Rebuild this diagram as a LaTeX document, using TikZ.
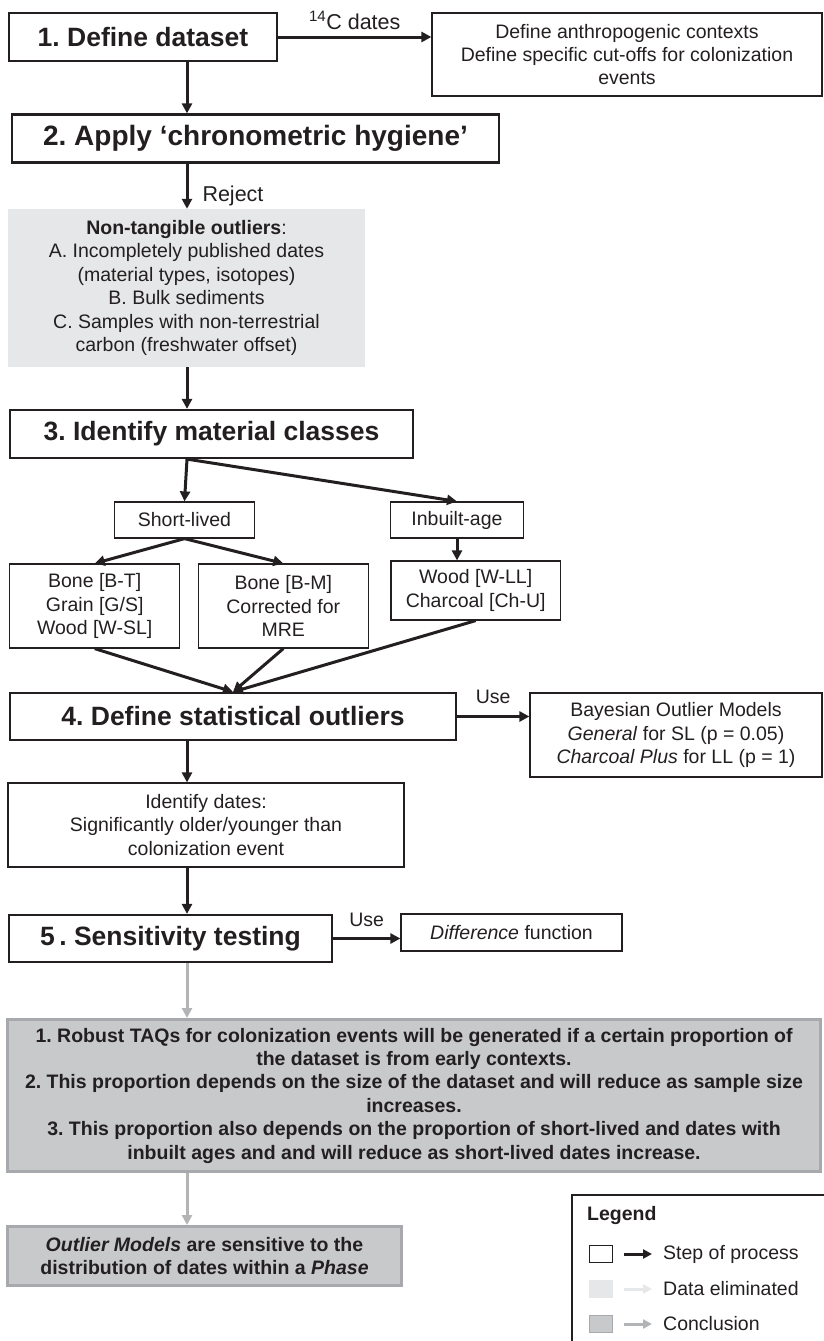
\documentclass[tikz,border=0pt]{standalone}
\usepackage{fontspec}
\setmainfont{Liberation Sans}
\usetikzlibrary{arrows.meta}
\definecolor{ink}{HTML}{231F20}
\definecolor{elim}{HTML}{E6E7E8}
\definecolor{concl}{HTML}{C8C9CB}
\definecolor{conclrule}{HTML}{A7A9AC}
\definecolor{greyarrow}{HTML}{B3B4B6}
\frenchspacing

\begin{document}
\begin{tikzpicture}[x=1pt,y=-1pt,
  every node/.style={font=\fontsize{19.5}{23.4}\selectfont, text=ink, align=center, inner sep=0pt},
  stepbox/.style={draw=ink, line width=2.2pt, font=\fontsize{26.5}{30}\selectfont\bfseries},
  plainbox/.style={draw=ink, line width=1.2pt},
  elimbox/.style={fill=elim},
  conclbox/.style={fill=concl, draw=conclrule, line width=3pt, font=\fontsize{19.5}{23.4}\selectfont\bfseries},
  flowlabel/.style={font=\fontsize{21.5}{24}\selectfont},
  flow/.style={draw=ink, line width=3pt, -{Triangle[length=10pt,width=10pt]}},
  greyflow/.style={draw=greyarrow, line width=3pt, -{Triangle[length=10pt,width=10pt]}}]
  \useasboundingbox (0,0) rectangle (824,1341);
  \coordinate (spine) at (187,0);
  % steps of the process
  \node[stepbox, minimum width=268, minimum height=48] (def) at (143,37) {1. Define dataset};
  \node[plainbox, minimum width=390, minimum height=83] (ctx) at (627,54.5) {Define anthropogenic contexts\\Define specific cut-offs for colonization\\events};
  \node[stepbox, minimum width=487, minimum height=48, font=\fontsize{28}{30}\selectfont\bfseries] (hyg) at (255.5,138.5) {2. Apply `chronometric hygiene'};
  \node[elimbox, minimum width=357, minimum height=158] (rej) at (186.5,288) {\textbf{Non-tangible outliers}:\\A. Incompletely published dates\\(material types, isotopes)\\B. Bulk sediments\\C. Samples with non-terrestrial\\carbon (freshwater offset)};
  \node[stepbox, minimum width=403, minimum height=48] (cls) at (211.5,434) {3. Identify material classes};
  \node[plainbox, minimum width=140, minimum height=36] (sl) at (184.5,520) {Short-lived};
  \node[plainbox, minimum width=133, minimum height=36] (ib) at (457,520) {Inbuilt-age};
  \node[plainbox, minimum width=170, minimum height=84] (bt) at (94.7,606) {Bone [B-T]\\Grain [G/S]\\Wood [W-SL]};
  \node[plainbox, minimum width=170, minimum height=84] (bm) at (283.3,606) {Bone [B-M]\\Corrected for\\MRE};
  \node[plainbox, minimum width=169.5, minimum height=59] (wd) at (475.7,590.5) {Wood [W-LL]\\Charcoal [Ch-U]};
  \node[stepbox, minimum width=446, minimum height=47] (out) at (233,716.5) {4. Define statistical outliers};
  \node[plainbox, minimum width=292, minimum height=84] (bay) at (676,735) {Bayesian Outlier Models\\\textit{General} for SL (p = 0.05)\\\textit{Charcoal Plus} for LL (p = 1)};
  \node[plainbox, minimum width=396, minimum height=84] (idd) at (206,825) {Identify dates:\\Significantly older/younger than\\colonization event};
  \node[stepbox, minimum width=323, minimum height=47] (sens) at (170.5,938.5) {5\,. Sensitivity testing};
  \node[plainbox, minimum width=221, minimum height=37] (dif) at (511.5,932.5) {\textit{Difference} function};
  % conclusions
  \node[conclbox, minimum width=813, minimum height=152] (taq) at (414,1095.5) {1. Robust TAQs for colonization events will be generated if a certain proportion of\\the dataset is from early contexts.\\2. This proportion depends on the size of the dataset and will reduce as sample size\\increases.\\3. This proportion also depends on the proportion of short-lived and dates with\\inbuilt ages and and will reduce as short-lived dates increase.};
  \node[conclbox, minimum width=394, minimum height=59] (phs) at (204.5,1256) {\textit{Outlier Models} are sensitive to the\\distribution of dates within a \textit{Phase}};
  % connectors
  \draw[flow] (def.east) -- node[flowlabel, above=6pt] {\textsuperscript{14}C dates} (ctx.west |- def.east);
  \draw[flow] (def.south -| spine) -- (hyg.north -| spine);
  \draw[flow] (hyg.south -| spine) -- node[flowlabel, pos=0.72, right=14pt] {Reject} (rej.north -| spine);
  \draw[flow] (rej.south -| spine) -- (cls.north -| spine);
  \draw[flow] (cls.south -| spine) -- (sl.north);
  \draw[flow] (cls.south -| spine) -- (ib.north);
  \draw[flow] (sl.south) -- (bt.north);
  \draw[flow] (sl.south) -- (bm.north);
  \draw[flow] (ib.south) -- (ib.south |- wd.north);
  \draw[flow] (bt.south) -- (out.north);
  \draw[flow] (bm.south) -- (out.north);
  \draw[flow] (wd.south) -- (out.north);
  \draw[flow] (out.east) -- node[above=11pt] {Use} (bay.west |- out.east);
  \draw[flow] (out.south -| spine) -- (idd.north -| spine);
  \draw[flow] (idd.south -| spine) -- (sens.north -| spine);
  \draw[flow] (sens.east) -- node[above=10pt] {Use} (dif.west |- sens.east);
  \draw[greyflow] (sens.south -| spine) -- (taq.north -| spine);
  \draw[greyflow] (taq.south -| spine) -- (phs.north -| spine);
  % legend
  \draw[draw=ink, line width=1.2pt] (572,1195) rectangle (840,1360);
  \node[anchor=west, font=\fontsize{19.5}{23.4}\selectfont\bfseries] (legt) at (587,1215) {Legend};
  \foreach \y/\fc/\dc/\ac/\t [count=\i] in {1254/white/ink/ink/Step of process,1289/elim/elim/elim/Data eliminated,1324/concl/conclrule/greyarrow/Conclusion} {
    \node[fill=\fc, draw=\dc, line width=1pt, minimum width=23, minimum height=17] (sq\i) at (601,\y) {};
    \node[anchor=west] (lt\i) at (663,\y) {\t};
    \draw[draw=\ac, line width=3pt, -{Triangle[length=9pt,width=9pt]}] ([xshift=11pt]sq\i.east) -- ([xshift=-11pt]lt\i.west);
  }
\end{tikzpicture}
\end{document}
